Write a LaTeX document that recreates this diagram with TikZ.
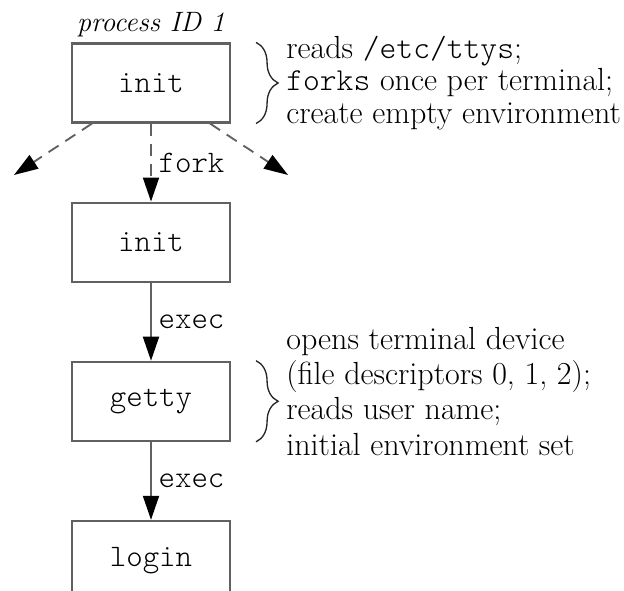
\documentclass[tikz,border=0pt]{standalone}
\usepackage{fontspec}
\setmonofont{Latin Modern Mono Light}
\usepackage{tikz}
\usetikzlibrary{arrows.meta,decorations.pathreplacing,positioning}
\definecolor{linegray}{gray}{0.38}
\newcommand{\progfont}{\ttfamily\fontsize{23.5}{26}\selectfont}

\begin{document}
\begin{tikzpicture}[x=0.75pt,y=0.75pt,
        proc/.style={draw=linegray,line width=1.6pt,minimum width=118.5pt,minimum height=59.25pt,inner sep=0pt,font=\progfont},
        call/.style={draw=linegray,line width=1.4pt,-{Triangle[length=18pt,width=12pt,color=black,fill=black]}},
        forked/.style={call,dash pattern=on 9pt off 6pt},
        calllabel/.style={font=\progfont,inner sep=5pt},
        curly/.style={decorate,decoration={brace,amplitude=16.5pt},line width=1pt,draw=black!85},
        note/.style={anchor=west,align=left,inner sep=0pt}]
            \useasboundingbox (0,0) rectangle (624,591);

            \node[proc] (init1) at (151,508) {init};
            \node[proc,below=58.5pt of init1] (init2) {init};
            \node[proc,below=58.5pt of init2] (getty) {getty};
            \node[proc,below=58.5pt of getty] (login) {login};

            \node[anchor=base,font=\itshape\fontsize{21}{24}\selectfont] (pid) at ([yshift=8pt]init1.north) {process ID 1};

            \coordinate (kidL) at (14,416);
            \coordinate (kidR) at (288,416);
            \draw[forked] ([xshift=-44.25pt]init1.south) to (kidL);
            \draw[forked] ([xshift=44.25pt]init1.south) to (kidR);
            \draw[forked] (init1) to node[calllabel,right] {fork} (init2);
            \draw[call] (init2) to node[calllabel,right] {exec} (getty);
            \draw[call] (getty) to node[calllabel,right] {exec} (login);

            \draw[curly] ([xshift=18.75pt]init1.north east) -- ([xshift=18.75pt]init1.south east);
            \draw[curly] ([xshift=18.75pt]getty.north east) -- ([xshift=18.75pt]getty.south east);

            \node[note,font=\fontsize{24}{24.4}\selectfont] (initnote) at ([xshift=41.25pt]init1.east)
                {reads \texttt{/etc/ttys};\\ \texttt{forks} once per terminal;\\ create empty environment};
            \node[note,font=\fontsize{24}{26.6}\selectfont] (gettynote) at ([xshift=41.25pt,yshift=7.5pt]getty.east)
                {opens terminal device\\ (file descriptors 0, 1, 2);\\ reads user name;\\ initial environment set};
        \end{tikzpicture}
\end{document}
